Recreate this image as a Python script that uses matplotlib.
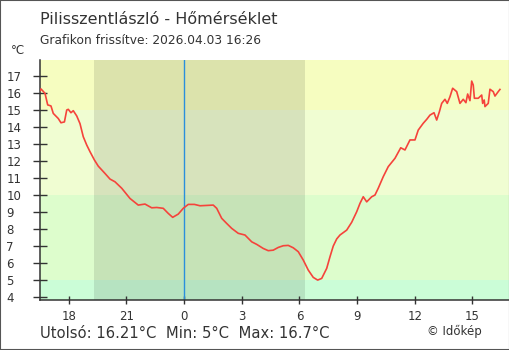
import matplotlib
matplotlib.use("Agg")
import matplotlib.pyplot as plt
from matplotlib.patches import Rectangle

# Hours relative to midnight (negative = previous day)
hours = [-7.48, -7.44, -7.23, -7.09, -6.92, -6.80, -6.54, -6.40, -6.22, -6.10,
         -6.02, -5.88, -5.76, -5.58, -5.41, -5.24, -5.06, -4.89, -4.66, -4.46,
         -4.11, -3.85, -3.59, -3.24, -2.81, -2.38, -2.03, -1.68, -1.42, -1.08,
         -0.82, -0.59, -0.30, -0.04, 0.22, 0.54, 0.83, 1.52, 1.70, 1.96,
         2.22, 2.48, 2.82, 3.17, 3.52, 3.78, 4.12, 4.38, 4.64, 4.90,
         5.16, 5.42, 5.68, 5.94, 6.20, 6.46, 6.72, 6.95, 7.16, 7.42,
         7.59, 7.76, 7.94, 8.11, 8.46, 8.72, 8.98, 9.15, 9.32, 9.50,
         9.76, 9.93, 10.10, 10.36, 10.62, 10.97, 11.27, 11.49, 11.75, 12.01,
         12.18, 12.44, 12.62, 12.79, 13.00, 13.14, 13.28, 13.40, 13.57, 13.69,
         13.83, 13.97, 14.18, 14.35, 14.52, 14.66, 14.75, 14.87, 14.96, 15.04,
         15.10, 15.30, 15.48, 15.53, 15.61, 15.65, 15.82, 15.91, 16.08, 16.17,
         16.34, 16.43]
temps = [16.15, 16.24, 15.98, 15.30, 15.24, 14.80, 14.50, 14.25, 14.30, 15.00,
         15.04, 14.84, 14.96, 14.65, 14.20, 13.43, 12.94, 12.55, 12.06, 11.70,
         11.27, 10.94, 10.78, 10.40, 9.80, 9.41, 9.47, 9.25, 9.27, 9.22,
         8.92, 8.69, 8.88, 9.22, 9.45, 9.45, 9.37, 9.41, 9.22, 8.63,
         8.33, 8.04, 7.75, 7.65, 7.25, 7.10, 6.86, 6.73, 6.76, 6.92,
         7.02, 7.04, 6.90, 6.67, 6.18, 5.59, 5.16, 5.00, 5.10, 5.69,
         6.37, 7.00, 7.42, 7.65, 7.94, 8.40, 9.02, 9.51, 9.90, 9.60,
         9.90, 10.00, 10.40, 11.08, 11.67, 12.16, 12.78, 12.65, 13.24, 13.24,
         13.82, 14.22, 14.45, 14.70, 14.84, 14.41, 14.90, 15.39, 15.63, 15.39,
         15.78, 16.28, 16.08, 15.39, 15.63, 15.43, 15.94, 15.55, 16.70, 16.47,
         15.69, 15.69, 15.88, 15.39, 15.59, 15.20, 15.39, 16.22, 16.08, 15.82,
         16.08, 16.21]

xtick_pos = [-6, -3, 0, 3, 6, 9, 12, 15]
xtick_labels = ["18", "21", "0", "3", "6", "9", "12", "15"]
ytick_pos = [4, 5, 6, 7, 8, 9, 10, 11, 12, 13, 14, 15, 16, 17]

band_edges = [0, 5, 10, 15, 30]
band_colors = ["#cbfdd7", "#ddfdcc", "#f0fdd2", "#f6fdc0"]
sunset, sunrise = -4.7, 6.31

title = "Pilisszentlászló - Hőmérséklet"
subtitle = "Grafikon frissítve: 2026.04.03 16:26"
footer = "Utolsó: 16.21°C  Min: 5°C  Max: 16.7°C"

text_col = "#333333"
plt.rcParams['font.family'] = ['DejaVu Sans']

fig = plt.figure(figsize=(5.1, 3.5), dpi=100)
ax = fig.add_axes([40 / 510, 50 / 350, 469 / 510, 240 / 350])
ax.set_xlim(-7.49, 16.9)
ax.set_ylim(3.83, 17.94)

for lo, hi, c in zip(band_edges[:-1], band_edges[1:], band_colors):
    ax.axhspan(lo, hi, color=c, lw=0, zorder=0)
ax.axvspan(sunset, sunrise, color="black", alpha=0.1, lw=0, zorder=1)
ax.axvline(0, color="#2a8fdc", lw=1, zorder=2)

ax.plot(hours, temps, color="#f5433b", lw=1.2, zorder=3)

ax.spines['top'].set_visible(False)
ax.spines['right'].set_visible(False)
for s in ('left', 'bottom'):
    ax.spines[s].set_color(text_col)
    ax.spines[s].set_linewidth(1.1)

ax.set_xticks(xtick_pos)
ax.set_xticklabels(xtick_labels)
ax.set_yticks(ytick_pos)
ax.tick_params(axis='x', direction='inout', length=6, width=1, color=text_col,
               labelsize=8.5, labelcolor=text_col, pad=4)
ax.tick_params(axis='y', direction='inout', length=9.4, width=1, color=text_col,
               labelsize=8.5, labelcolor=text_col, pad=19.5)
for lab in ax.get_yticklabels():
    lab.set_horizontalalignment('left')

fig.text(40 / 510, 1 - 19 / 350, title, fontsize=11.5, color=text_col, va='center')
fig.text(40 / 510, 1 - 41 / 350, subtitle, fontsize=8.8, color=text_col, va='center')
fig.text(11 / 510, 1 - 50 / 350, "°C", fontsize=8.5, color=text_col, va='center')
fig.text(40 / 510, 1 - 333 / 350, footer, fontsize=10.6, color=text_col, va='center')
fig.text(482 / 510, 1 - 331 / 350, "© Időkép", fontsize=8.5, color=text_col,
         va='center', ha='right')

fig.patches.append(Rectangle((0, 0), 1, 1, transform=fig.transFigure, fill=False,
                             edgecolor="#555555", lw=1.5))

fig.savefig("out.png", dpi=100)
